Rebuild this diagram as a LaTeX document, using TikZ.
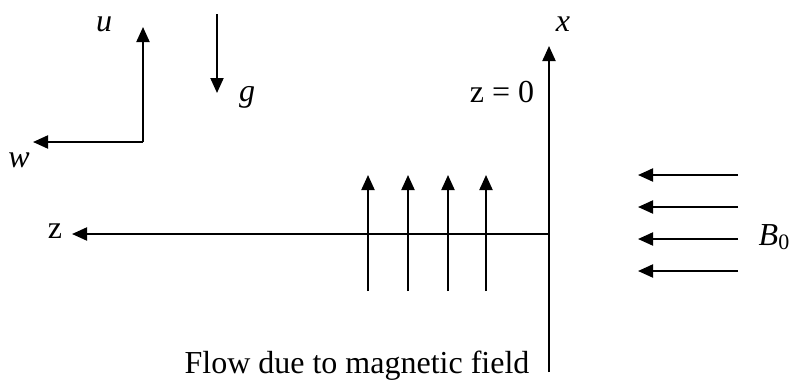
\documentclass[tikz,border=0pt]{standalone}
\usepackage{fontspec}
\setmainfont{Liberation Serif}
\usetikzlibrary{arrows.meta}

\begin{document}
\begin{tikzpicture}[
    x=1pt, y=-1pt,
    every node/.style={font=\fontsize{32}{36}\selectfont, inner sep=0pt},
    lbl/.style={font=\fontsize{32}{36}\selectfont\itshape},
    arr/.style={-{Triangle[length=15pt,width=13pt]}, line width=2pt},
    axis/.style={line width=2pt}
]
\useasboundingbox (0,0) rectangle (793,383);

% reference frame
\coordinate (o)  at (143,142);
\coordinate (ut) at (143,27);
\coordinate (wt) at (33,142);
\node[lbl] (u) at (104,24) {u};
\node[lbl] (w) at (19,160) {w};
\draw[arr] (o) -- (ut);
\draw[arr] (o) -- (wt);

% gravity
\coordinate (g0) at (217,14);
\coordinate (g1) at (217,93);
\node[lbl] (g) at (247,97) {g};
\draw[arr] (g0) -- (g1);

% axes
\coordinate (x0) at (549,372);
\coordinate (xt) at (549,46);
\coordinate (zt) at (72,234);
\node[lbl] (x)    at (563,24) {x};
\node      (zero) at (502,92) {z = 0};
\node      (z)    at (55,231) {z};
\draw[arr] (x0) -- (xt);
\draw[arr] (x0 |- zt) -- (zt);

% flow
\foreach \i/\px in {1/368, 2/408, 3/448, 4/486} {
    \coordinate (f\i a) at (\px,291);
    \coordinate (f\i b) at (\px,175);
    \draw[arr] (f\i a) -- (f\i b);
}
\node (flow) at (357,366) {Flow due to magnetic field};

% magnetic field
\foreach \i/\py in {1/175, 2/207, 3/239, 4/271} {
    \coordinate (b\i a) at (738,\py);
    \coordinate (b\i b) at (638,\py);
    \draw[arr] (b\i a) -- (b\i b);
}
\node (B) at (774,237) {\textit{B}\raisebox{-0.25ex}{\fontsize{22}{24}\selectfont 0}};
\end{tikzpicture}
\end{document}
